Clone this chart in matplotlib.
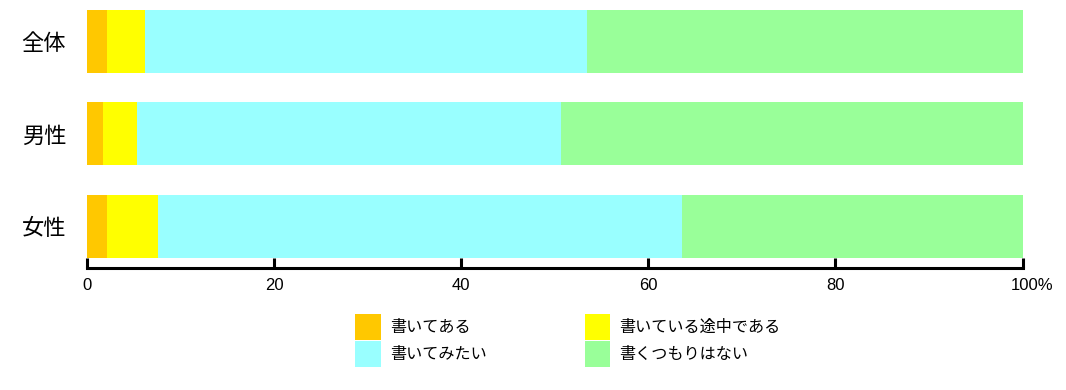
import matplotlib
matplotlib.use('Agg')
import matplotlib.pyplot as plt
import matplotlib.transforms as mtransforms
import numpy as np

plt.rcParams['font.family'] = ['Noto Sans CJK JP', 'DejaVu Sans']

#
# Data (percent)
#

groups = ['全体', '男性', '女性']
series_labels = ['書いてある', '書いている途中である', '書いてみたい', '書くつもりはない']
series_colors = ['#ffc800', '#ffff00', '#99ffff', '#99ff99']
written = [2.1, 1.7, 2.1]
writing = [4.1, 3.6, 5.5]
want_to = [47.2, 45.4, 56.0]
no_plan = [46.6, 49.3, 36.4]
xticks = [0, 20, 40, 60, 80, 100]
xtick_labels = ['0', '20', '40', '60', '80', '100%']

series = [written, writing, want_to, no_plan]

fig = plt.figure(figsize=(10.66, 3.9), dpi=100)
ax = fig.add_axes([0.0816, 0.3128, 0.8776, 0.6615])

ypos = np.arange(len(groups))[::-1]
left = np.zeros(len(groups))
handles = []
for vals, lab, col in zip(series, series_labels, series_colors):
    bars = ax.barh(ypos, vals, left=left, height=0.68, color=col, label=lab)
    handles.append(bars)
    left += np.array(vals)

ax.set_xlim(0, 100)
ax.set_ylim(-0.451, 2.34)

for side in ['top', 'right', 'left']:
    ax.spines[side].set_visible(False)
ax.spines['bottom'].set_linewidth(2.2)

ax.set_xticks(xticks)
ax.set_xticklabels(xtick_labels, fontfamily='Liberation Sans', fontsize=12)
ax.tick_params(axis='x', direction='in', length=7, width=2.2, pad=7)
# the "%" hangs past the last tick
last = ax.get_xticklabels()[-1]
last.set_transform(last.get_transform() +
                   mtransforms.ScaledTranslation(10 / 100, 0, fig.dpi_scale_trans))

ax.set_yticks(ypos)
ax.set_yticklabels(groups, fontsize=16)
ax.tick_params(axis='y', length=0, pad=15)

# legend: column-major order
order = [0, 2, 1, 3]
fig.legend([handles[i] for i in order], [series_labels[i] for i in order],
           loc='upper left', bbox_to_anchor=(355 / 1066, 1 - 314 / 390),
           ncol=2, frameon=False, fontsize=11.6, borderpad=0, borderaxespad=0,
           handlelength=1.6, handleheight=2.1, labelspacing=0.05,
           handletextpad=0.55, columnspacing=6.1)

fig.savefig('out.png', dpi=100)
